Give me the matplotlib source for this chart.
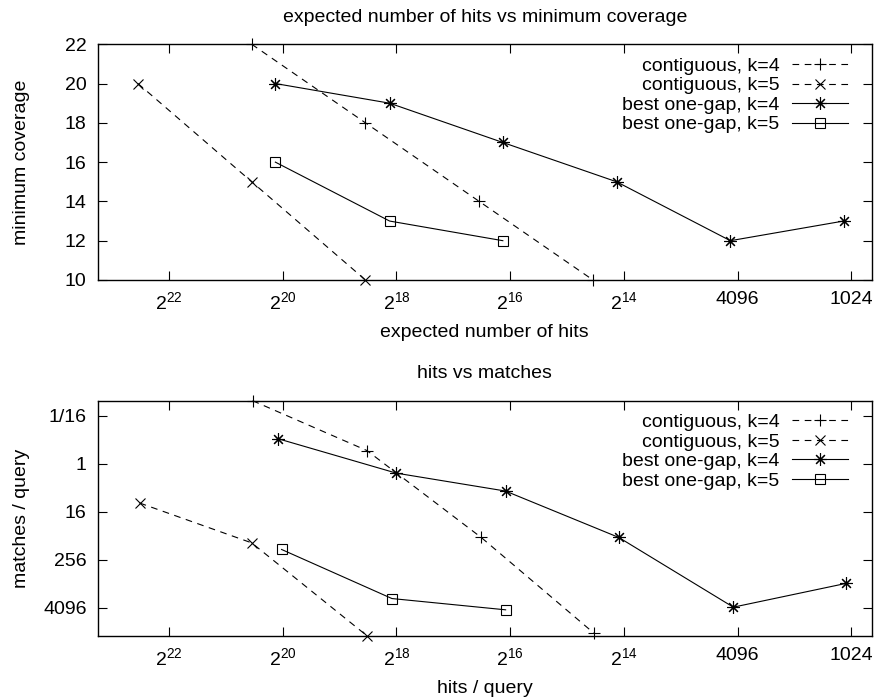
import matplotlib
matplotlib.use("Agg")
import matplotlib.pyplot as plt
from matplotlib.ticker import FixedLocator, FixedFormatter, NullLocator

plt.rcParams['font.family'] = ['Liberation Sans', 'DejaVu Sans']
plt.rcParams['font.size'] = 14
plt.rcParams['mathtext.default'] = 'regular'

# expected number of hits vs minimum coverage
hits_c4 = [1530000, 382500, 95600, 23900]
cov_c4 = [22, 18, 14, 10]
hits_c5 = [6120000, 1530000, 382500]
cov_c5 = [20, 15, 10]
hits_g4 = [1147000, 284900, 71700, 17930, 4480, 1128]
cov_g4 = [20, 19, 17, 15, 12, 13]
hits_g5 = [1147000, 284900, 71700]
cov_g5 = [16, 13, 12]

# hits per query vs matches per query
q_hits_c4 = [1514000, 375800, 93300, 23650]
q_match_c4 = [0.0263, 0.468, 71.0, 17800]
q_hits_c5 = [5994000, 1530000, 375800]
q_match_c5 = [9.71, 97.0, 20730]
q_hits_g4 = [1105000, 262144, 69400, 17440, 4320, 1088]
q_match_g4 = [0.238, 1.73, 4.86, 71.0, 3980, 1003]
q_hits_g5 = [1063000, 277000, 69300]
q_match_g5 = [142, 2419, 4640]

labels = ["contiguous, k=4", "contiguous, k=5",
          "best one-gap, k=4", "best one-gap, k=5"]

xtick_vals = [2**22, 2**20, 2**18, 2**16, 2**14, 4096, 1024]
xtick_text = ["$2^{22}$", "$2^{20}$", "$2^{18}$", "$2^{16}$", "$2^{14}$", "4096", "1024"]
cov_ticks = [10, 12, 14, 16, 18, 20, 22]
match_ticks = [2**-4, 1, 16, 256, 4096]
match_text = ["1/16", "1", "16", "256", "4096"]

star = (8, 2, 0)
dash = (0, (6, 5))
styles = [
    dict(ls=dash, marker='+', ms=8),
    dict(ls=dash, marker='x', ms=7),
    dict(ls='-', marker=star, ms=9),
    dict(ls='-', marker='s', ms=7, mfc='none'),
]


def draw(ax, series, title, xlabel, ylabel, pad):
    for (x, y), lab, st in zip(series, labels, styles):
        ax.plot(x, y, color='black', lw=0.8, mew=0.8, mec='black',
                label=lab, clip_on=False, **st)
    ax.set_xscale('log', base=2)
    ax.set_xlim(1e7, 800)
    ax.xaxis.set_major_locator(FixedLocator(xtick_vals))
    ax.xaxis.set_major_formatter(FixedFormatter(xtick_text))
    ax.xaxis.set_minor_locator(NullLocator())
    ax.tick_params(which='both', direction='in', top=True, right=True,
                   length=6.5, width=0.8, pad=8)
    for s in ax.spines.values():
        s.set_linewidth(1.0)
    ax.set_title(title, pad=pad, fontsize=14)
    ax.set_xlabel(xlabel, labelpad=8)
    ax.set_ylabel(ylabel)
    ax.yaxis.set_label_coords(-0.088, 0.5)
    ax.legend(loc='upper right', bbox_to_anchor=(0.9698, 0.9453),
              frameon=False, markerfirst=False,
              numpoints=1, handlelength=2.9, handletextpad=0.65,
              labelspacing=0.1, borderaxespad=0, borderpad=0)


fig = plt.figure(figsize=(8.76, 6.97), dpi=100)
ax1 = fig.add_axes([0.1115, 0.5983, 0.8836, 0.3382])
ax2 = fig.add_axes([0.1115, 0.0879, 0.8836, 0.3372])

draw(ax1, [(hits_c4, cov_c4), (hits_c5, cov_c5), (hits_g4, cov_g4), (hits_g5, cov_g5)],
     "expected number of hits vs minimum coverage",
     "expected number of hits", "minimum coverage", 16)
ax1.set_ylim(10, 22)
ax1.yaxis.set_major_locator(FixedLocator(cov_ticks))

draw(ax2, [(q_hits_c4, q_match_c4), (q_hits_c5, q_match_c5),
           (q_hits_g4, q_match_g4), (q_hits_g5, q_match_g5)],
     "hits vs matches", "hits / query", "matches / query", 16.5)
ax2.set_yscale('log', base=2)
all_match = q_match_c4 + q_match_c5 + q_match_g4 + q_match_g5
ax2.set_ylim(max(all_match), min(all_match))
ax2.yaxis.set_major_locator(FixedLocator(match_ticks))
ax2.yaxis.set_major_formatter(FixedFormatter(match_text))
ax2.yaxis.set_minor_locator(NullLocator())

fig.savefig("out.png", dpi=100)
